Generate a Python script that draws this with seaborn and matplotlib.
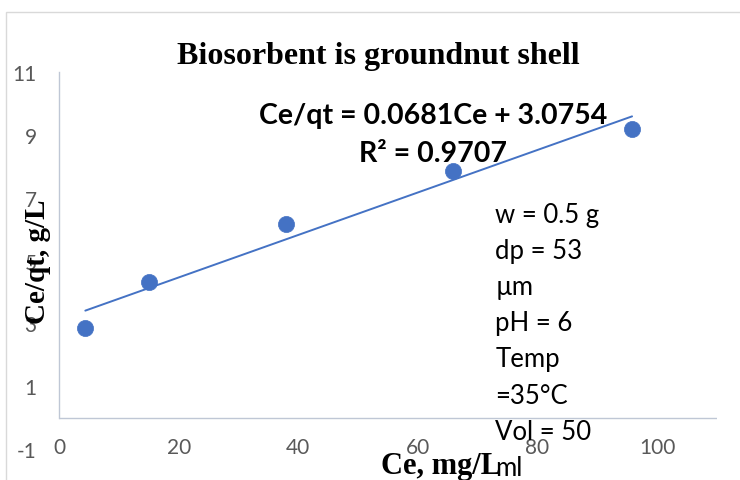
import numpy as np
import pandas as pd
import seaborn as sns
import matplotlib
matplotlib.use("Agg")
import matplotlib.pyplot as plt
from matplotlib.patches import Rectangle

# Data
ce = [4.4, 15.0, 37.9, 65.9, 95.8]
ce_qt = [2.85, 4.3, 6.15, 7.85, 9.2]
x_ticks = [0, 20, 40, 60, 80, 100]
y_ticks = [-1, 1, 3, 5, 7, 9, 11]
title = "Biosorbent is groundnut shell"
eq_text = "Ce/qt = 0.0681Ce + 3.0754"
r2_text = "R² = 0.9707"
cond_text = "w = 0.5 g\ndp = 53\nµm\npH = 6\nTemp\n=35°C\nVol = 50\nml"

df = pd.DataFrame({"Ce": ce, "Ce_qt": ce_qt})

sns.set_theme(style="white")
plt.rcParams['font.family'] = ['Lato', 'DejaVu Sans']
plt.rcParams['axes.unicode_minus'] = False

W, H = 740, 481
fig = plt.figure(figsize=(W / 100, H / 100), dpi=100)
# axes: x 0 at px 59, x 110 at px 717; y -1 at px 450, y 11 at px 73
ax = fig.add_axes([59 / W, 1 - 450 / H, (717 - 59) / W, (450 - 73) / H])

# outer chart border
fig.patches.append(Rectangle((6 / W, -0.2), 1.2, 1.2 - 13 / H, transform=fig.transFigure,
                             fill=False, edgecolor="#D9D9D9", linewidth=1.0))

blue = "#4472C4"
sns.regplot(data=df, x="Ce", y="Ce_qt", ax=ax, ci=None, truncate=True,
            scatter_kws=dict(s=135, color=blue, edgecolor=blue, linewidths=0.5, alpha=1, zorder=3),
            line_kws=dict(color=blue, linewidth=1.4, zorder=2))

ax.set_xlim(0, 110)
ax.set_ylim(-1, 11)
ax.set_xticks(x_ticks)
ax.set_yticks(y_ticks)

spine_c = "#BFC7D5"
for s in ["top", "right", "bottom"]:
    ax.spines[s].set_visible(False)
ax.spines["left"].set_color(spine_c)
ax.spines["left"].set_linewidth(1.0)
ax.spines["left"].set_bounds(0, 11)
ax.axhline(0, color=spine_c, linewidth=1.0, zorder=1)

tick_c = "#595959"
ax.tick_params(axis="y", length=0, pad=16, labelsize=15, labelcolor=tick_c)
ax.tick_params(axis="x", length=0, pad=-9, labelsize=15, labelcolor=tick_c)

serif = ['Liberation Serif', 'DejaVu Serif']
ax.set_xlabel("Ce, mg/L", fontsize=22, fontweight="bold", family=serif, color="black")
ax.xaxis.set_label_coords(0.58, -0.043)
ax.xaxis.label.set_va("center")
ax.set_ylabel("Ce/qt, g/L", fontsize=21, fontweight="bold", family=serif, color="black")
ax.yaxis.set_label_coords(-0.033, 0.50)
ax.yaxis.label.set_va("center")

ax.text(0.485, 1.045, title, transform=ax.transAxes, ha="center", va="center",
        fontsize=23, fontweight="bold", family=serif, color="black")

ax.text(0.568, 0.886, eq_text, transform=ax.transAxes, ha="center", va="center",
        fontsize=20.5, fontweight="bold", color="black", zorder=4)
ax.text(0.568, 0.786, r2_text, transform=ax.transAxes, ha="center", va="center",
        fontsize=20.5, fontweight="bold", color="black", zorder=4)

ax.text(0.663, 0.655, cond_text, transform=ax.transAxes, ha="left", va="top",
        fontsize=18.5, color="black", linespacing=1.555, zorder=4)

fig.savefig("out.png", dpi=100)
